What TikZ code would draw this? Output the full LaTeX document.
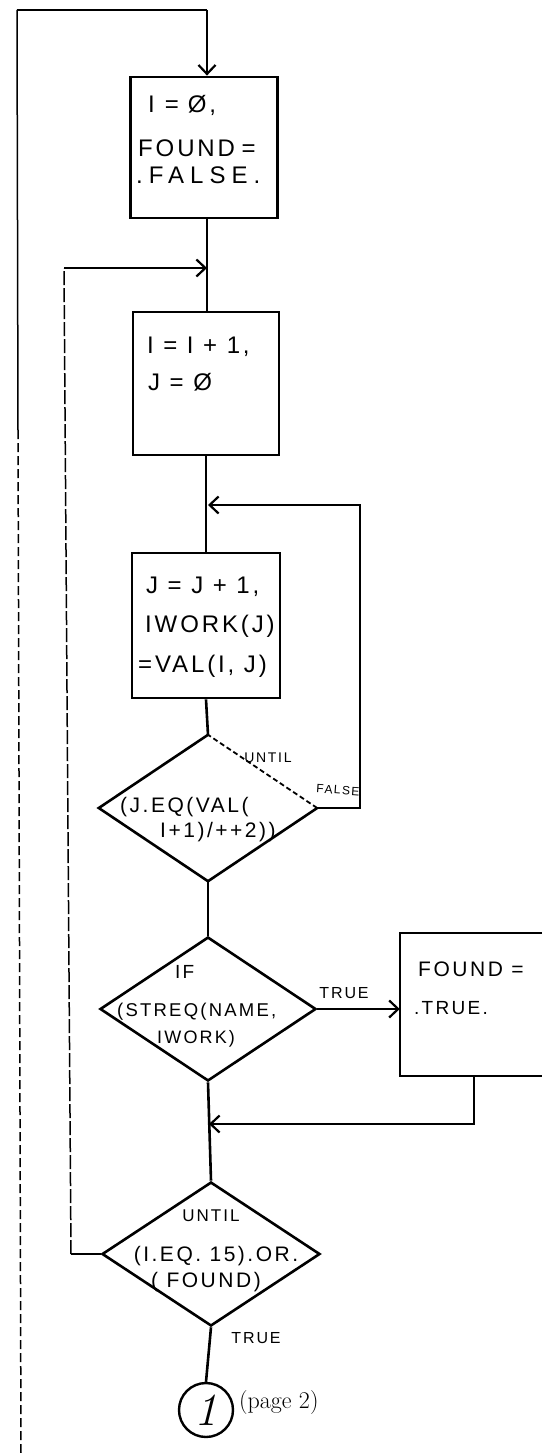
\documentclass[tikz,border=0pt]{standalone}
\usepackage{fontspec}
\newfontfamily\hand[LetterSpace=12]{Liberation Sans}
\usetikzlibrary{shapes.geometric,arrows.meta}
\begin{document}
\begin{tikzpicture}[x=1pt,y=-1pt,
  box/.style={draw,line width=2.8pt,rectangle,inner sep=0pt},
  openbox/.style={rectangle,inner sep=0pt},
  dia/.style={diamond,inner sep=0pt},
  conn/.style={line width=2.6pt},
  thinloop/.style={line width=1.5pt},
  arr/.style={-{Straight Barb[length=9pt,width=17pt,line width=2.2pt]}},
  txt/.style={anchor=base west,inner sep=0pt,font=\hand\fontsize{24}{28}\selectfont},
  stxt/.style={anchor=base west,inner sep=0pt,font=\hand\fontsize{19}{22}\selectfont},
  ctxt/.style={inner sep=0pt,font=\hand\fontsize{21}{24}\selectfont},
  lbl/.style={inner sep=0pt,font=\hand\fontsize{12}{14}\selectfont},
  circ/.style={draw,circle,line width=2.4pt,inner sep=0pt,minimum size=54pt}
]
\useasboundingbox (0,0) rectangle (542,1453);

% boxes
\node[box,minimum width=147pt,minimum height=141pt] (b1) at (204,147.5) {};
\node[box,minimum width=146pt,minimum height=143pt] (b2) at (206,383.5) {};
\node[box,minimum width=148pt,minimum height=145pt] (b3) at (206,625.5) {};
\node[openbox,minimum width=142pt,minimum height=143pt] (b4) at (471,1004.5) {};
\draw[line width=2.4pt] (b4.north east) -- (b4.north west) -- (b4.south west) -- (b4.south east);

% diamonds
\node[dia,minimum width=218pt,minimum height=146pt] (d1) at (208,808) {};
\draw[line width=2.6pt,line join=miter] (d1.north) -- (d1.west) -- (d1.south) -- (d1.east);
\draw[line width=1.8pt,dash pattern=on 5pt off 3pt] (d1.east) -- (d1.north);
\node[dia,draw,line width=2.6pt,minimum width=216pt,minimum height=144pt] (d2) at (208,1009) {};
\node[dia,draw,line width=2.6pt,minimum width=218pt,minimum height=144pt] (d3) at (211,1254) {};

% connector circle
\node[circ] (c1) at (206,1410) {\fontsize{46}{46}\selectfont\itshape 1};
\node[anchor=base west,inner sep=0pt,font=\fontsize{24}{26}\selectfont] (pg) at (239,1408) {(page 2)};

% texts box 1
\node[txt] (t1a) at (148,113) {I\kern10pt=\kern9ptØ,};
\node[txt] (t1b) at (138,157) {FOUND\kern-3pt\ =};
\node[txt,font=\hand\fontsize{24}{28}\selectfont\addfontfeature{LetterSpace=25}] (t1c) at (136,183) {.FALSE.};
% box 2
\node[txt] (t2a) at (147,353) {I = I + 1,};
\node[txt] (t2b) at (148,390) {J = Ø};
% box 3
\node[txt] (t3a) at (146,593) {J = J + 1,};
\node[txt] (t3b) at (145,632) {IWORK(J)};
\node[txt] (t3c) at (138,672) {=VAL(I, J)};
% diamond 1
\node[lbl,font=\hand\fontsize{14}{16}\selectfont] (t4a) at (268,758) {UNTIL};
\node[stxt,font=\hand\fontsize{21}{24}\selectfont] (t4b) at (120,812) {(J.EQ(VAL(};
\node[stxt,font=\hand\fontsize{21}{24}\selectfont] (t4c) at (160,837) {I+1)/++2))};
% diamond 2
\node[stxt] (t5a) at (175,978) {IF};
\node[stxt,font=\hand\fontsize{18.5}{22}\selectfont] (t5b) at (117,1016) {(STREQ(NAME,};
\node[stxt,font=\hand\fontsize{18}{22}\selectfont] (t5c) at (157,1043) {IWORK)};
% box 4
\node[stxt,font=\hand\fontsize{21}{24}\selectfont] (t6a) at (418,976) {FOUND =};
\node[stxt,font=\hand\fontsize{19}{22}\selectfont] (t6b) at (414,1014) {.TRUE.};
% diamond 3
\node[lbl,font=\hand\fontsize{17}{20}\selectfont] (t7a) at (211,1216) {UNTIL};
\node[ctxt] (t7b) at (216,1256) {(I.EQ. 15).OR.};
\node[ctxt] (t7c) at (206,1282) {( FOUND)};

% labels
\node[lbl,rotate=-4] (lf) at (338,790) {FALSE};
\node[lbl,font=\hand\fontsize{16}{18}\selectfont] (lt1) at (344,993) {TRUE};
\node[lbl,font=\hand\fontsize{16}{18}\selectfont] (lt2) at (256,1338) {TRUE};

% coordinates
\coordinate (otop) at (17,10);
\coordinate (otr) at (207,10);
\coordinate (omid) at (18,430);
\coordinate (obot) at (21,1453);
\coordinate (ileft) at (64,268);
\coordinate (ibot) at (71,1254);
\coordinate (j1) at (207,268);
\coordinate (j2) at (208,505);
\coordinate (rtop) at (360,505);
\coordinate (b4out) at (474,1076);
\coordinate (j3) at (209,1124);

% outer loop from page 2
\draw[thinloop] (omid) -- (otop);
\draw[thinloop,dash pattern=on 9pt off 4pt] (obot) -- (omid);
\draw[conn] (otop) -- (otr);
\draw[conn,arr] (otr) -- (b1.north -| otr);

% main spine
\draw[conn] (b1.south -| j1) -- (b2.north -| j1);
\draw[conn] (b2.south) -- (b3.north);
\draw[conn] (b3.south) -- (d1.north);
\draw[conn] (d1.south) -- (d2.north);
\draw[conn] (d2.south) -- (d3.north);
\draw[conn] (d3.south) -- (c1.north);

% inner loop back to I = I+1
\draw[conn] (d3.west) -- (ibot);
\draw[thinloop,dash pattern=on 14pt off 3pt] (ibot) -- (ileft);
\draw[conn,arr] (ileft) -- (j1);

% J loop
\draw[conn,arr] (d1.east) -| (rtop) -- (j2);

% true branch
\draw[conn,arr] (d2.east) -- (d2.east -| b4.west);
\draw[conn,arr] (b4out) |- (j3);
\end{tikzpicture}
\end{document}
